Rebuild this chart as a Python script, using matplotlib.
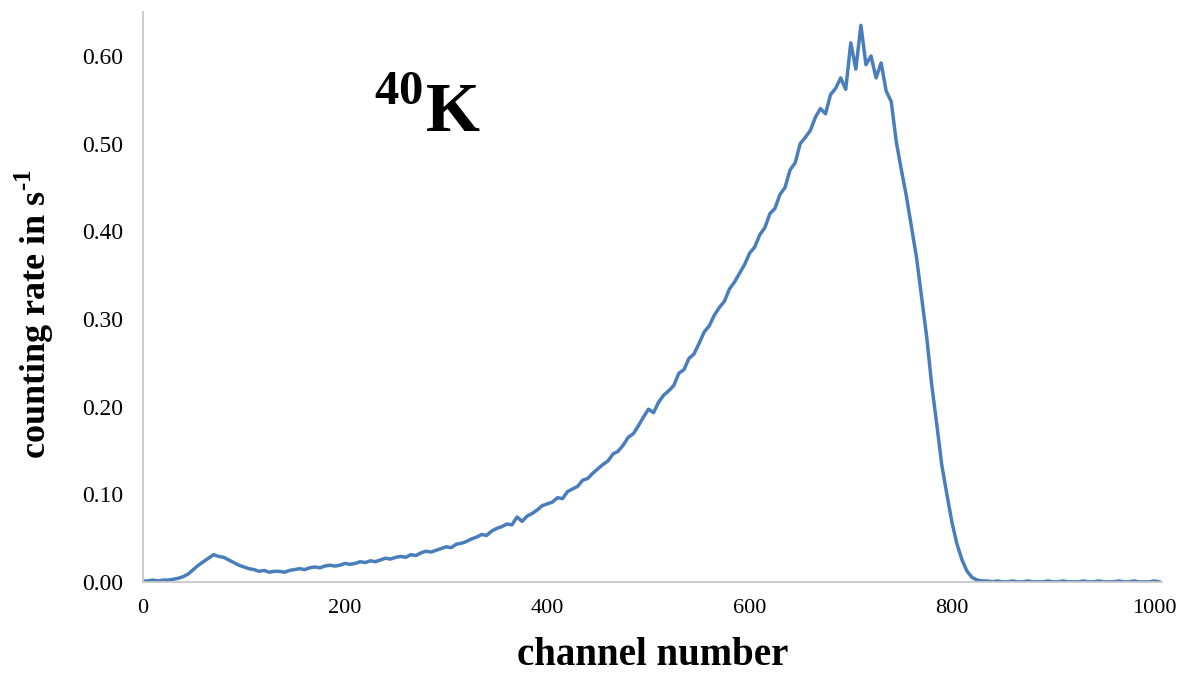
import numpy as np
import matplotlib.pyplot as plt

plt.rcParams['font.family'] = 'Liberation Serif'
plt.rcParams['mathtext.fontset'] = 'custom'
plt.rcParams['mathtext.rm'] = 'Liberation Serif:bold'
plt.rcParams['mathtext.bf'] = 'Liberation Serif:bold'

# spectrum, one value every 5 channels
channels = np.arange(0, 1010, 5)
rate = [
    0.001, 0.001, 0.002, 0.001, 0.002, 0.002, 0.003, 0.004, 0.006, 0.009,
    0.014, 0.019, 0.023, 0.027, 0.031, 0.029, 0.028, 0.025, 0.022, 0.019,
    0.017, 0.015, 0.014, 0.012, 0.013, 0.011, 0.012, 0.012, 0.011, 0.013,
    0.014, 0.015, 0.014, 0.016, 0.017, 0.016, 0.018, 0.019, 0.018, 0.019,
    0.021, 0.020, 0.021, 0.023, 0.022, 0.024, 0.023, 0.025, 0.027, 0.026,
    0.028, 0.029, 0.028, 0.031, 0.030, 0.033, 0.035, 0.034, 0.036, 0.038,
    0.040, 0.039, 0.043, 0.044, 0.046, 0.049, 0.051, 0.054, 0.053, 0.058,
    0.061, 0.063, 0.066, 0.065, 0.074, 0.069, 0.075, 0.078, 0.082, 0.087,
    0.089, 0.091, 0.096, 0.095, 0.103, 0.106, 0.109, 0.116, 0.118, 0.124,
    0.129, 0.134, 0.138, 0.146, 0.149, 0.156, 0.165, 0.169, 0.178, 0.188,
    0.197, 0.193, 0.205, 0.213, 0.218, 0.224, 0.238, 0.242, 0.255, 0.260,
    0.272, 0.285, 0.292, 0.304, 0.313, 0.320, 0.334, 0.342, 0.352, 0.362,
    0.375, 0.382, 0.396, 0.404, 0.420, 0.426, 0.442, 0.450, 0.470, 0.478,
    0.500, 0.507, 0.515, 0.530, 0.540, 0.534, 0.556, 0.563, 0.575, 0.562,
    0.615, 0.585, 0.635, 0.590, 0.600, 0.575, 0.592, 0.560, 0.548, 0.502,
    0.470, 0.440, 0.405, 0.370, 0.325, 0.280, 0.225, 0.180, 0.133, 0.100,
    0.068, 0.043, 0.025, 0.012, 0.005, 0.002, 0.001, 0.001, 0.000, 0.001,
    0.000, 0.000, 0.001, 0.000, 0.000, 0.001, 0.000, 0.000, 0.000, 0.001,
    0.000, 0.000, 0.001, 0.000, 0.000, 0.000, 0.001, 0.000, 0.000, 0.001,
    0.000, 0.000, 0.000, 0.001, 0.000, 0.000, 0.001, 0.000, 0.000, 0.000,
    0.001, 0.000,
]
xticks = [0, 200, 400, 600, 800, 1000]
yticks = [0.0, 0.1, 0.2, 0.3, 0.4, 0.5, 0.6]

fig = plt.figure(figsize=(11.8, 6.75), dpi=100)
ax = fig.add_axes([0.121, 0.138, 0.864, 0.844])

ax.plot(channels, rate, color='#4a7ebb', lw=2.5)

ax.set_xlim(0, 1008)
ax.set_ylim(0, 0.65)
ax.set_xticks(xticks)
ax.set_yticks(yticks)
ax.set_yticklabels(['%.2f' % v for v in yticks])
ax.tick_params(length=0, labelsize=16)
ax.tick_params(axis='y', pad=14, labelsize=17)
ax.tick_params(axis='x', pad=12)

for s in ['top', 'right']:
    ax.spines[s].set_visible(False)
for s in ['left', 'bottom']:
    ax.spines[s].set_color('#c8c8c8')
    ax.spines[s].set_linewidth(1.3)

ax.set_xlabel('channel number', fontsize=28, fontweight='bold')
ax.set_ylabel(r'counting rate in s$^{\text{-1}}$', fontsize=26, fontweight='bold')
ax.xaxis.set_label_coords(0.5, -0.097)
ax.yaxis.set_label_coords(-0.085, 0.47)

ax.text(229, 0.513, r'$^{\mathbf{40}}\mathbf{K}$', fontsize=50, va='baseline')

fig.savefig('out.png', dpi=100)
